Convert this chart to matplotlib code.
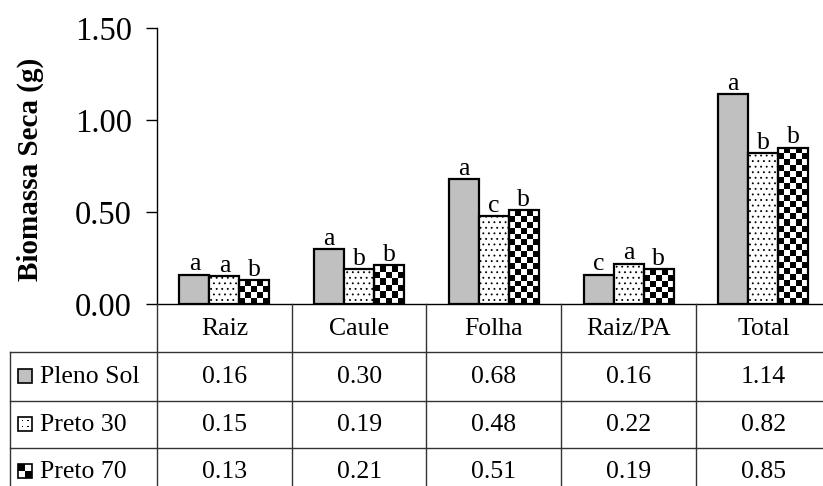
import numpy as np
import matplotlib.pyplot as plt
from matplotlib.patches import Rectangle
from matplotlib.lines import Line2D
from matplotlib.transforms import blended_transform_factory

plt.rcParams['font.family'] = ['Liberation Serif', 'DejaVu Serif']
plt.rcParams['hatch.linewidth'] = 0.6

categories = ['Raiz', 'Caule', 'Folha', 'Raiz/PA', 'Total']
series = ['Pleno Sol', 'Preto 30', 'Preto 70']
pleno_sol = [0.16, 0.30, 0.68, 0.16, 1.14]
preto_30 = [0.15, 0.19, 0.48, 0.22, 0.82]
preto_70 = [0.13, 0.21, 0.51, 0.19, 0.85]
letters_pleno = ['a', 'a', 'a', 'c', 'a']
letters_p30 = ['a', 'b', 'c', 'a', 'b']
letters_p70 = ['b', 'b', 'b', 'b', 'b']
yticks = [0.0, 0.5, 1.0, 1.5]

W, H = 823, 486
fig = plt.figure(figsize=(W / 100, H / 100), dpi=100)


def fx(px):
    return px / W


def fy(px):
    return 1 - px / H


col_px = 134.75
ax_left, ax_top, ax_bot = 157, 28, 304
ax = fig.add_axes([fx(ax_left), fy(ax_bot), 5 * col_px / W, (ax_bot - ax_top) / H])

x = np.arange(len(categories))
bw = 30 / col_px
lw = 1.6
b1 = ax.bar(x - bw, pleno_sol, bw, color='#c0c0c0', edgecolor='black', linewidth=lw, zorder=2)
b2 = ax.bar(x, preto_30, bw, color='white', edgecolor='black', linewidth=lw, hatch='...', zorder=2)
b3 = ax.bar(x + bw, preto_70, bw, color='none', edgecolor='black', linewidth=lw, zorder=2)

# checkerboard fill for Preto 70 (no built-in hatch for it)
px_per_y = (ax_bot - ax_top) / 1.5
for rect in b3:
    x0, w, h = rect.get_x(), rect.get_width(), rect.get_height()
    ncol = 5
    sq = 30 / ncol
    nrow = max(1, int(round(h * px_per_y / sq)))
    board = np.add.outer(np.arange(nrow), np.arange(ncol)) % 2
    im = ax.imshow(board, cmap='gray', extent=(x0, x0 + w, 0, h), origin='lower',
                   aspect='auto', interpolation='nearest', zorder=1.5)
    im.set_clip_path(rect)

for vals, offs, lets in [(pleno_sol, -bw, letters_pleno), (preto_30, 0, letters_p30),
                         (preto_70, bw, letters_p70)]:
    for xi, v, t in zip(x, vals, lets):
        ax.annotate(t, (xi + offs, v), xytext=(0, 3), textcoords='offset points',
                    ha='center', va='baseline', fontsize=18.5)

ax.set_xlim(-0.5, 4.5)
ax.set_ylim(0, 1.5)
ax.set_xticks([])
ax.set_yticks(yticks)
ax.set_yticklabels(['%.2f' % t for t in yticks])
ax.tick_params(axis='y', direction='out', length=8, width=1, labelsize=23.5, pad=10)
ax.spines['top'].set_visible(False)
ax.spines['right'].set_visible(False)
ax.spines['left'].set_linewidth(1)
ax.spines['bottom'].set_linewidth(1)
fig.text(fx(30), fy(169), 'Biomassa Seca (g)', rotation=90, ha='center', va='center',
         fontsize=21, fontweight='bold')

# data table below the chart
tc = '#333333'
row_lines = [352, 401, 448]
for yl in row_lines:
    fig.add_artist(Line2D([fx(10), fx(W)], [fy(yl), fy(yl)], transform=fig.transFigure, color=tc, lw=1))
fig.add_artist(Line2D([fx(10), fx(10)], [fy(352), fy(H)], transform=fig.transFigure, color=tc, lw=1))
fig.add_artist(Line2D([fx(ax_left), fx(ax_left)], [fy(ax_bot), fy(H)], transform=fig.transFigure, color=tc, lw=1))
for k in range(1, len(categories)):
    xs = fx(ax_left + k * col_px)
    fig.add_artist(Line2D([xs, xs], [fy(ax_bot), fy(H)], transform=fig.transFigure, color=tc, lw=1))

trans = blended_transform_factory(ax.transData, fig.transFigure)
fs = 18.5
for xi, c in zip(x, categories):
    fig.text(xi, fy(329), c, transform=trans, ha='center', va='center', fontsize=fs)

row_mid = [376.5, 424.5, 472]
for ym, vals in zip(row_mid, [pleno_sol, preto_30, preto_70]):
    for xi, v in zip(x, vals):
        fig.text(xi, fy(ym), '%.2f' % v, transform=trans, ha='center', va='center', fontsize=fs)

# legend keys + names
key = 14
for ym, name in zip(row_mid, series):
    fig.text(fx(40), fy(ym), name, ha='left', va='center', fontsize=fs)
    kx, ky = fx(18), fy(ym + key / 2 - 1)
    kw, kh = key / W, key / H
    if name == 'Pleno Sol':
        fig.add_artist(Rectangle((kx, ky), kw, kh, transform=fig.transFigure,
                                 facecolor='#c0c0c0', edgecolor='black', lw=1.2))
    elif name == 'Preto 30':
        fig.add_artist(Rectangle((kx, ky), kw, kh, transform=fig.transFigure,
                                 facecolor='white', edgecolor='black', lw=1.2))
        for dx, dy in [(0.3, 0.3), (0.7, 0.7), (0.3, 0.7), (0.7, 0.3)]:
            fig.add_artist(Rectangle((kx + dx * kw - 0.7 / W, ky + dy * kh - 0.7 / H), 1.5 / W, 1.5 / H,
                                     transform=fig.transFigure, facecolor='black', lw=0))
    else:
        fig.add_artist(Rectangle((kx, ky + kh / 2), kw / 2, kh / 2, transform=fig.transFigure,
                                 facecolor='black', lw=0))
        fig.add_artist(Rectangle((kx + kw / 2, ky), kw / 2, kh / 2, transform=fig.transFigure,
                                 facecolor='black', lw=0))
        fig.add_artist(Rectangle((kx, ky), kw, kh, transform=fig.transFigure,
                                 facecolor='none', edgecolor='black', lw=1.2))

fig.savefig('out.png', dpi=100)
